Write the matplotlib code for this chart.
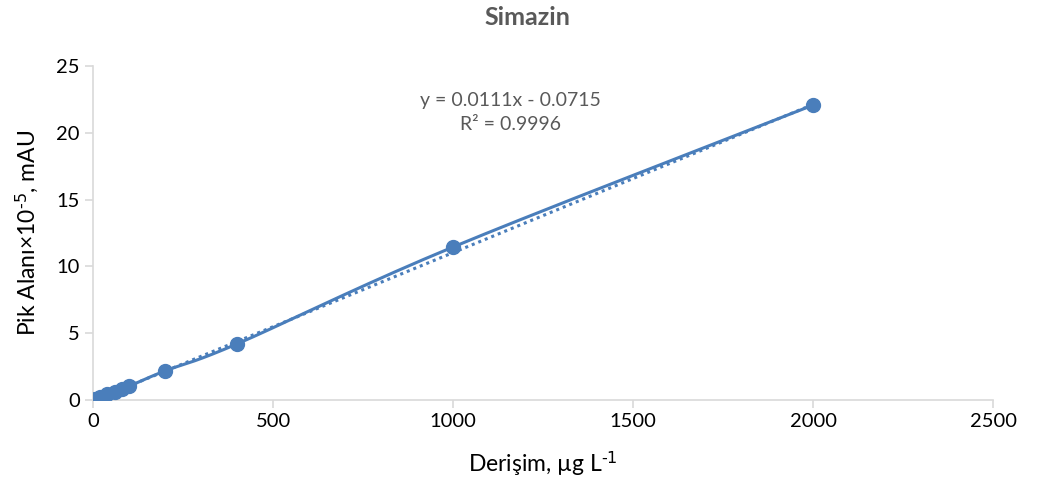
import matplotlib
matplotlib.use('Agg')
import matplotlib.pyplot as plt
import numpy as np

plt.rcParams['font.family'] = ['Lato', 'DejaVu Sans']
plt.rcParams['mathtext.default'] = 'regular'

# concentration (ug/L) and peak area (x1e-5)
conc = [5, 10, 20, 40, 60, 80, 100, 200, 400, 1000, 2000]
area = [0.05, 0.1, 0.2, 0.42, 0.62, 0.82, 1.02, 2.17, 4.19, 11.45, 22.08]

slope = 0.0111
intercept = -0.0715

blue = '#4a7ebb'
gray = '#595959'


def smooth_line(xs, ys, n=20):
    # Catmull-Rom smoothing like Excel's "smoothed line"
    xs = np.asarray(xs, float)
    ys = np.asarray(ys, float)
    px = np.concatenate([[2 * xs[0] - xs[1]], xs, [2 * xs[-1] - xs[-2]]])
    py = np.concatenate([[2 * ys[0] - ys[1]], ys, [2 * ys[-1] - ys[-2]]])
    ox, oy = [], []
    t = np.linspace(0, 1, n)
    for i in range(1, len(px) - 2):
        for arr, out in ((px, ox), (py, oy)):
            p0, p1, p2, p3 = arr[i - 1], arr[i], arr[i + 1], arr[i + 2]
            out.extend(0.5 * ((2 * p1) + (-p0 + p2) * t +
                              (2 * p0 - 5 * p1 + 4 * p2 - p3) * t ** 2 +
                              (-p0 + 3 * p1 - 3 * p2 + p3) * t ** 3))
    return ox, oy


fig = plt.figure(figsize=(10.42, 4.9), dpi=100)
ax = fig.add_axes([0.0893, 0.184, 0.8637, 0.681])

sx, sy = smooth_line(conc, area)
ax.plot(sx, sy, color=blue, lw=2.2, zorder=2)
ax.plot(conc, area, 'o', color=blue, ms=10, zorder=3)

tx = np.array([min(conc), max(conc)])
ax.plot(tx, slope * tx + intercept, color=blue, lw=2.2, ls=(0, (1, 1.3)), zorder=2)

ax.set_xlim(0, 2500)
ax.set_ylim(0, 25)
ax.set_xticks(range(0, 2501, 500))
ax.set_yticks(range(0, 26, 5))

for s in ['top', 'right']:
    ax.spines[s].set_visible(False)
for s in ['left', 'bottom']:
    ax.spines[s].set_color('#d9d9d9')
    ax.spines[s].set_linewidth(1.2)
ax.tick_params(colors='#d9d9d9', labelcolor='black', labelsize=14.5, length=6, width=1.2)

ax.set_xlabel(r'Derişim, µg L$^{\text{-1}}$', fontsize=16.5, labelpad=14)
ax.set_ylabel(r'Pik Alanı×10$^{\text{-5}}$, mAU', fontsize=16.5, labelpad=12)
fig.text(0.506, 0.965, 'Simazin', fontsize=18, fontweight='bold', color=gray,
         ha='center', va='center')

ax.text(1160, 21.5, 'y = 0.0111x - 0.0715\nR² = 0.9996', ha='center', va='center',
        fontsize=14, color=gray, linespacing=1.5)

fig.savefig('out.png', dpi=100)
